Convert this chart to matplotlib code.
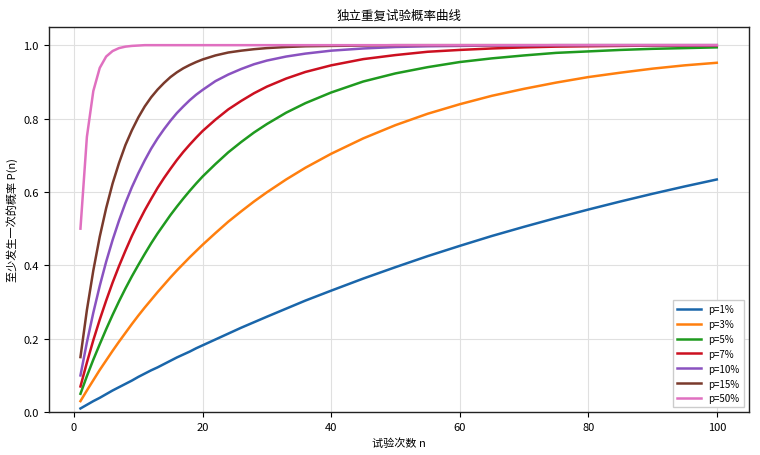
import matplotlib
matplotlib.use('Agg')
import matplotlib.pyplot as plt

plt.rcParams['font.family'] = ['Noto Sans CJK SC', 'DejaVu Sans']
plt.rcParams['axes.unicode_minus'] = False

n_vals = [1, 2, 3, 4, 5, 6, 7, 8, 9, 10, 11, 12, 13, 14, 15, 16, 17, 18, 19, 20,
          22, 24, 26, 28, 30, 33, 36, 40, 45, 50, 55, 60, 65, 70, 75, 80, 85, 90, 95, 100]

p1 = [0.010, 0.020, 0.030, 0.039, 0.049, 0.059, 0.068, 0.077, 0.086, 0.096,
      0.105, 0.114, 0.122, 0.131, 0.140, 0.149, 0.157, 0.165, 0.174, 0.182,
      0.198, 0.214, 0.230, 0.245, 0.260, 0.282, 0.304, 0.331, 0.364, 0.395,
      0.425, 0.453, 0.480, 0.505, 0.529, 0.552, 0.574, 0.595, 0.615, 0.634]
p3 = [0.030, 0.059, 0.087, 0.115, 0.141, 0.167, 0.192, 0.216, 0.240, 0.263,
      0.285, 0.306, 0.327, 0.347, 0.367, 0.386, 0.404, 0.422, 0.439, 0.456,
      0.488, 0.519, 0.547, 0.574, 0.599, 0.634, 0.666, 0.704, 0.746, 0.782,
      0.813, 0.839, 0.862, 0.881, 0.898, 0.913, 0.925, 0.936, 0.945, 0.952]
p5 = [0.050, 0.098, 0.143, 0.185, 0.226, 0.265, 0.302, 0.337, 0.370, 0.401,
      0.431, 0.460, 0.487, 0.512, 0.537, 0.560, 0.582, 0.603, 0.623, 0.642,
      0.676, 0.708, 0.736, 0.762, 0.785, 0.816, 0.842, 0.871, 0.901, 0.923,
      0.940, 0.954, 0.964, 0.972, 0.979, 0.983, 0.987, 0.990, 0.992, 0.994]
p7 = [0.070, 0.135, 0.196, 0.252, 0.304, 0.353, 0.398, 0.440, 0.480, 0.516,
      0.550, 0.581, 0.611, 0.638, 0.663, 0.687, 0.709, 0.729, 0.748, 0.766,
      0.797, 0.825, 0.848, 0.869, 0.887, 0.909, 0.927, 0.945, 0.962, 0.973,
      0.982, 0.987, 0.991, 0.994, 0.996, 0.997, 0.998, 0.999, 0.999, 0.999]
p10 = [0.100, 0.190, 0.271, 0.344, 0.410, 0.469, 0.522, 0.570, 0.613, 0.651,
       0.686, 0.718, 0.746, 0.771, 0.794, 0.815, 0.833, 0.850, 0.865, 0.878,
       0.902, 0.920, 0.935, 0.948, 0.958, 0.969, 0.977, 0.985, 0.991, 0.995,
       0.997, 0.998, 0.999, 0.999, 1.000, 1.000, 1.000, 1.000, 1.000, 1.000]
p15 = [0.150, 0.278, 0.386, 0.478, 0.556, 0.623, 0.679, 0.728, 0.768, 0.803,
       0.833, 0.858, 0.879, 0.897, 0.913, 0.926, 0.937, 0.946, 0.954, 0.961,
       0.972, 0.980, 0.985, 0.989, 0.992, 0.995, 0.997, 0.998, 0.999, 1.000,
       1.000, 1.000, 1.000, 1.000, 1.000, 1.000, 1.000, 1.000, 1.000, 1.000]
p50 = [0.500, 0.750, 0.875, 0.938, 0.969, 0.984, 0.992, 0.996, 0.998, 0.999,
       1.000, 1.000, 1.000, 1.000, 1.000, 1.000, 1.000, 1.000, 1.000, 1.000,
       1.000, 1.000, 1.000, 1.000, 1.000, 1.000, 1.000, 1.000, 1.000, 1.000,
       1.000, 1.000, 1.000, 1.000, 1.000, 1.000, 1.000, 1.000, 1.000, 1.000]

series = [p1, p3, p5, p7, p10, p15, p50]
labels = ['p=1%', 'p=3%', 'p=5%', 'p=7%', 'p=10%', 'p=15%', 'p=50%']
colors = ['#1a66aa', '#ff7f0e', '#1f9a1f', '#cc1020', '#8a52c0', '#7a3a2c', '#e070c0']

fig = plt.figure(figsize=(7.6, 4.56), dpi=100)
ax = fig.add_axes([0.064, 0.094, 0.921, 0.845])

for vals, lab, col in zip(series, labels, colors):
    ax.plot(n_vals, vals, color=col, linewidth=1.8, label=lab)

ax.set_title('独立重复试验概率曲线', fontsize=9)
ax.set_xlabel('试验次数 n', fontsize=8)
ax.set_ylabel('至少发生一次的概率 P(n)', fontsize=8)
ax.set_ylim(0, 1.05)
ax.set_xticks([0, 20, 40, 60, 80, 100])
ax.set_yticks([0.0, 0.2, 0.4, 0.6, 0.8, 1.0])
ax.tick_params(labelsize=8)
ax.grid(True, color='#e0e0e0', linewidth=0.8)
for spine in ax.spines.values():
    spine.set_color('#222222')
    spine.set_linewidth(1.0)

ax.legend(loc='lower right', fontsize=7, handlelength=2.5, framealpha=1,
          edgecolor='#cccccc', fancybox=False)

fig.savefig('out.png', dpi=100)
